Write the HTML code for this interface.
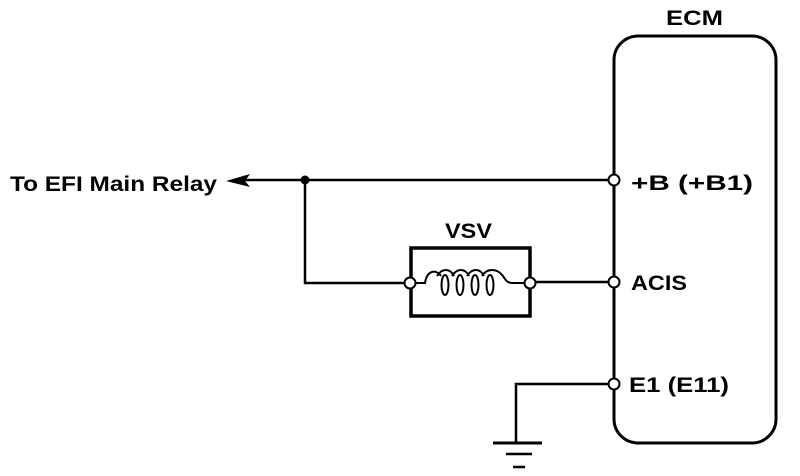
<!DOCTYPE html>
<html><head><meta charset="utf-8"><style>html,body{margin:0;padding:0;background:#fff}svg{display:block}</style></head>
<body>
<svg width="800" height="476" viewBox="0 0 800 476" xmlns="http://www.w3.org/2000/svg">
<g fill="none" stroke="#000" stroke-width="3">
<rect x="614" y="36" width="162" height="407" rx="24"/>
<line x1="240" y1="180" x2="609" y2="180" stroke-width="2.5"/>
<polyline points="305,180 305,283 405,283" stroke-width="2.5"/>
<rect x="411" y="248" width="119" height="68" stroke-width="3.5"/>
<line x1="535" y1="282" x2="609" y2="282" stroke-width="2.5"/>
<polyline points="609,384 516,384 516,443" stroke-width="2.5"/>
<line x1="493" y1="443" x2="542" y2="443" stroke-width="3"/>
<line x1="506" y1="454" x2="532" y2="454" stroke-width="2.5"/>
<line x1="513" y1="467" x2="525" y2="467" stroke-width="2.5"/>
<path d="M415,283 L425,283 C427,270 436,269 441,276 M437,276 C442,268 450,268 454,276 M452,276 C457,268 465,268 469,276 M467,276 C472,268 480,268 484,276 M482,276 C487,268 497,268 503,276 C506,281 508,283 512,283 L525,283" stroke-width="2"/>
<ellipse cx="445" cy="285" rx="3.5" ry="10" stroke-width="2"/>
<ellipse cx="460" cy="285" rx="3.5" ry="10" stroke-width="2"/>
<ellipse cx="475" cy="285" rx="3.5" ry="10" stroke-width="2"/>
<ellipse cx="490" cy="285" rx="3.5" ry="10" stroke-width="2"/>
</g>
<polygon points="226,181 250,174 245,181 250,187" fill="#000"/>
<circle cx="305" cy="180" r="4.5" fill="#000"/>
<g fill="#fff" stroke="#000" stroke-width="2">
<circle cx="614" cy="180" r="5.5"/>
<circle cx="410" cy="283" r="5.5"/>
<circle cx="530" cy="283" r="5.5"/>
<circle cx="614" cy="282" r="5.5"/>
<circle cx="614" cy="384" r="5.5"/>
</g>
<g font-family="Liberation Sans, sans-serif" font-size="21" font-weight="bold" fill="#000">
<text x="10" y="191" textLength="207" lengthAdjust="spacingAndGlyphs">To EFI Main Relay</text>
<text x="666" y="25" textLength="57" lengthAdjust="spacingAndGlyphs">ECM</text>
<text x="445" y="238" textLength="47" lengthAdjust="spacingAndGlyphs">VSV</text>
<text x="631" y="190" textLength="122" lengthAdjust="spacingAndGlyphs">+B (+B1)</text>
<text x="631" y="290" textLength="56" lengthAdjust="spacingAndGlyphs">ACIS</text>
<text x="629" y="392" textLength="100" lengthAdjust="spacingAndGlyphs">E1 (E11)</text>
</g>
</svg>
</body></html>
